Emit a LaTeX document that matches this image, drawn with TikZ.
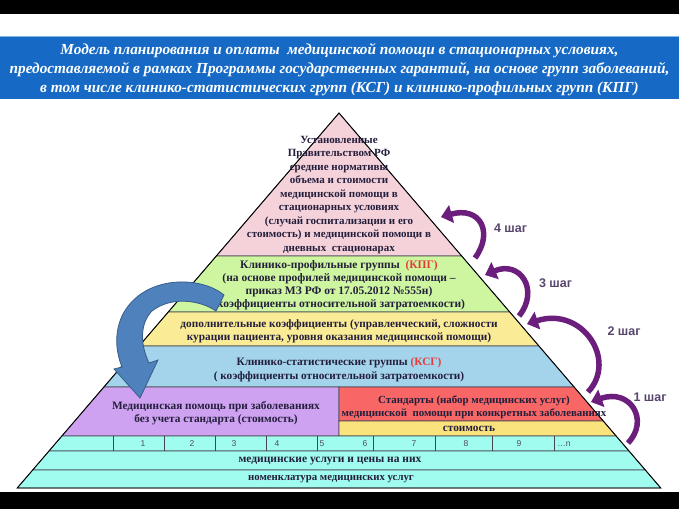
\documentclass[tikz,border=0pt]{standalone}
\usepackage{fontspec}
\setmainfont{Liberation Serif}
\newfontfamily\arialf{Liberation Sans}
\usetikzlibrary{arrows.meta}
\definecolor{bannerblue}{RGB}{22,106,198}
\definecolor{bannerline}{RGB}{130,180,235}
\definecolor{cpink}{RGB}{245,210,218}
\definecolor{cgreen}{RGB}{206,246,160}
\definecolor{cyellow}{RGB}{250,236,150}
\definecolor{cblue}{RGB}{164,212,236}
\definecolor{cpurple}{RGB}{206,162,240}
\definecolor{cred}{RGB}{248,102,102}
\definecolor{cyellowb}{RGB}{250,226,125}
\definecolor{ccyan}{RGB}{160,252,238}
\definecolor{bandline}{RGB}{70,70,80}
\definecolor{txt}{RGB}{35,30,60}
\definecolor{kred}{RGB}{225,60,60}
\definecolor{steppurple}{RGB}{108,30,124}
\definecolor{steptxt}{RGB}{88,70,110}
\definecolor{arrblue}{RGB}{79,129,189}
\definecolor{arrblueline}{RGB}{56,93,138}
\tikzset{
  band/.style={draw=bandline, line width=0.7pt},
  bandtext/.style={text=txt, align=center, inner sep=0pt, font=\fontsize{11.3}{13}\selectfont\bfseries},
  numtext/.style={text=txt!80, inner sep=0pt, font=\arialf\fontsize{8.5}{9}\selectfont},
  steplabel/.style={text=steptxt, inner sep=0pt, font=\arialf\fontsize{12.5}{13}\selectfont\bfseries},
  steparrow/.style={draw=steppurple, line width=5.5pt, -{Triangle[width=18pt,length=11pt]}},
  titletext/.style={text=white, align=center, inner sep=0pt, font=\fontsize{15.3}{19}\selectfont\bfseries\itshape}
}
\begin{document}
\begin{tikzpicture}[x=1pt,y=-1pt]
\useasboundingbox (0,0) rectangle (679,509);
\fill[white] (0,0) rectangle (679,509);
\fill[black] (0,0) rectangle (679,14);
\fill[black] (0,492) rectangle (679,509);
% banner
\fill[bannerblue] (0,36) rectangle (679,99);
\draw[bannerline, line width=1.5pt] (0,36.5) -- (679,36.5);
\node[titletext] (title) at (339.5,69.5) {Модель планирования и оплаты \ медицинской помощи в стационарных условиях,\\предоставляемой в рамках Программы государственных гарантий, на основе групп заболеваний,\\в том числе клинико-статистических групп (КСГ) и клинико-профильных групп (КПГ)};
% bands
\filldraw[band, fill=cpink] (339,113) -- (461.7,256) -- (216.3,256) -- cycle;
\filldraw[band, fill=cgreen] (216.3,256) -- (461.7,256) -- (509.7,312) -- (168.3,312) -- cycle;
\filldraw[band, fill=cyellow] (168.3,312) -- (509.7,312) -- (538.9,346) -- (139.1,346) -- cycle;
\filldraw[band, fill=cblue] (139.1,346) -- (538.9,346) -- (574.1,387) -- (103.9,387) -- cycle;
\filldraw[band, fill=cpurple] (103.9,387) -- (339,387) -- (339,436) -- (61.9,436) -- cycle;
\filldraw[band, fill=cred] (339,387) -- (574.1,387) -- (603.3,421) -- (339,421) -- cycle;
\filldraw[band, fill=cyellowb] (339,421) -- (603.3,421) -- (616.1,436) -- (339,436) -- cycle;
\filldraw[band, fill=ccyan] (61.9,436) -- (616.1,436) -- (629,451) -- (49,451) -- cycle;
\filldraw[band, fill=ccyan] (49,451) -- (629,451) -- (645.3,470) -- (32.7,470) -- cycle;
\filldraw[band, fill=ccyan] (32.7,470) -- (645.3,470) -- (660.75,488) -- (17.25,488) -- cycle;
\foreach \xx in {113,164,215,266,317,373,435,492,554} \draw[band] (\xx,436) -- (\xx,451);
\draw[black, line width=0.9pt] (339,113) -- (660.75,488) -- (17.25,488) -- cycle;
% band texts
\node[bandtext, font=\fontsize{11}{13.5}\selectfont\bfseries] (tpink) at (339,195) {Установленные\\Правительством РФ\\средние нормативы\\объема и стоимости\\медицинской помощи в\\стационарных условиях\\(случай госпитализации и его\\стоимость) и медицинской помощи в\\дневных \ стационарах};
\node[bandtext, font=\fontsize{11.5}{13}\selectfont\bfseries] (tgreen) at (339,285) {Клинико-профильные группы \ \textcolor{kred}{(КПГ)}\\(на основе профилей медицинской помощи –\\приказ МЗ РФ от 17.05.2012 №555н)\\(коэффициенты относительной затратоемкости)};
\node[bandtext] (tyellow) at (339,331.5) {дополнительные коэффициенты (управленческий, сложности\\курации пациента, уровня оказания медицинской помощи)};
\node[bandtext, font=\fontsize{11.3}{14}\selectfont\bfseries] (tblue) at (339,370) {Клинико-статистические группы \textcolor{kred}{(КСГ)}\\( коэффициенты относительной затратоемкости)};
\node[bandtext] (tpurple) at (216,413) {Медицинская помощь при заболеваниях\\без учета стандарта (стоимость)};
\node[bandtext, font=\fontsize{10.9}{12.5}\selectfont\bfseries] (tred) at (474,407) {Стандарты (набор медицинских услуг)\\медицинской \ помощи при конкретных заболеваниях};
\node[bandtext] (tcost) at (469,429) {стоимость};
\node[bandtext, font=\fontsize{11.5}{13}\selectfont\bfseries] (tserv) at (330,461) {медицинские услуги и цены на них};
\node[bandtext, font=\fontsize{10.8}{13}\selectfont\bfseries] (tnomen) at (331,479.5) {номенклатура медицинских услуг};
% numbers
\node[numtext] (n1) at (143,444) {1};
\node[numtext] (n2) at (192,444) {2};
\node[numtext] (n3) at (234,444) {3};
\node[numtext] (n4) at (277,444) {4};
\node[numtext] (n5) at (322,444) {5};
\node[numtext] (n6) at (365,444) {6};
\node[numtext] (n7) at (414,444) {7};
\node[numtext] (n8) at (466,444) {8};
\node[numtext] (n9) at (519,444) {9};
\node[numtext] (nn) at (564,444) {…n};
% step labels
\node[steplabel] (s4) at (510.5,228) {4 шаг};
\node[steplabel] (s3) at (555.5,283) {3 шаг};
\node[steplabel] (s2) at (624,331) {2 шаг};
\node[steplabel] (s1) at (650,397) {1 шаг};
% step arrows
\coordinate (t4) at (475,258); \coordinate (h4) at (441,217);
\coordinate (t3) at (519,316); \coordinate (h3) at (485,275);
\coordinate (t2) at (588,392); \coordinate (h2) at (527,324);
\coordinate (t1) at (628,443); \coordinate (h1) at (591,402);
\draw[steparrow] (t4) .. controls (494,232) and (480,206) .. (h4);
\draw[steparrow] (t3) .. controls (540,290) and (520,260) .. (h3);
\draw[steparrow] (t2) .. controls (618,360) and (582,306) .. (h2);
\draw[steparrow] (t1) .. controls (650,420) and (630,388) .. (h1);
% blue curved arrow
\filldraw[fill=arrblue, draw=arrblueline, line width=0.8pt]
  (224,295) .. controls (200,275) and (142,275) .. (122,316)
  .. controls (114,334) and (116,352) .. (122,367)
  -- (114,369) -- (140,398) -- (158,360) -- (149,363)
  .. controls (139,342) and (141,322) .. (152,311)
  .. controls (171,296) and (200,300) .. (216,311) -- cycle;
\end{tikzpicture}
\end{document}
